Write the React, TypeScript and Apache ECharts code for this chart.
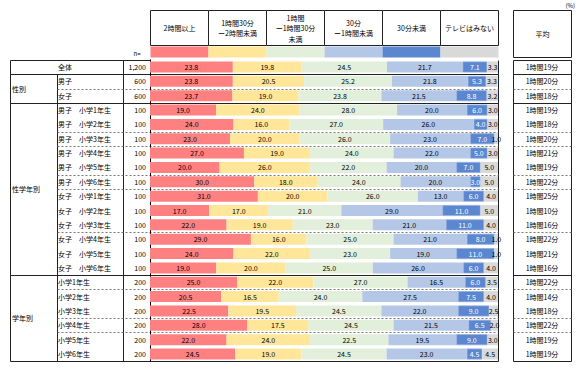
import React, { useEffect, useRef } from "react";
import * as echarts from "echarts";

const categories = [
  "2時間以上",
  "1時間30分\nー2時間未満",
  "1時間\nー1時間30分\n未満",
  "30分\nー1時間未満",
  "30分未満",
  "テレビはみない",
];
const colors = ["#FF8080", "#FFE699", "#E2EFDA", "#B4C7E7", "#5A87CF", "#D9D9D9"];

const rowLabels = [
  "全体", "男子", "女子",
  "男子　小学1年生", "男子　小学2年生", "男子　小学3年生", "男子　小学4年生", "男子　小学5年生", "男子　小学6年生",
  "女子　小学1年生", "女子　小学2年生", "女子　小学3年生", "女子　小学4年生", "女子　小学5年生", "女子　小学6年生",
  "小学1年生", "小学2年生", "小学3年生", "小学4年生", "小学5年生", "小学6年生",
];
const nValues = [
  "1,200", "600", "600",
  "100", "100", "100", "100", "100", "100", "100", "100", "100", "100", "100", "100",
  "200", "200", "200", "200", "200", "200",
];
const over2h = [23.8, 23.8, 23.7, 19.0, 24.0, 23.0, 27.0, 20.0, 30.0, 31.0, 17.0, 22.0, 29.0, 24.0, 19.0, 25.0, 20.5, 22.5, 28.0, 22.0, 24.5];
const h130to2h = [19.8, 20.5, 19.0, 24.0, 16.0, 20.0, 19.0, 26.0, 18.0, 20.0, 17.0, 19.0, 16.0, 22.0, 20.0, 22.0, 16.5, 19.5, 17.5, 24.0, 19.0];
const h1to130 = [24.5, 25.2, 23.8, 28.0, 27.0, 26.0, 24.0, 22.0, 24.0, 26.0, 21.0, 23.0, 25.0, 23.0, 25.0, 27.0, 24.0, 24.5, 24.5, 22.5, 24.5];
const m30to1h = [21.7, 21.8, 21.5, 20.0, 26.0, 23.0, 22.0, 20.0, 20.0, 13.0, 29.0, 21.0, 21.0, 19.0, 26.0, 16.5, 27.5, 22.0, 21.5, 19.5, 23.0];
const under30 = [7.1, 5.3, 8.8, 6.0, 4.0, 7.0, 5.0, 7.0, 3.0, 6.0, 11.0, 11.0, 8.0, 11.0, 6.0, 6.0, 7.5, 9.0, 6.5, 9.0, 4.5];
const noTv = [3.3, 3.3, 3.2, 3.0, 3.0, 1.0, 3.0, 5.0, 5.0, 4.0, 5.0, 4.0, 1.0, 1.0, 4.0, 3.5, 4.0, 2.5, 2.0, 3.0, 4.5];
const averages = [
  "1時間19分", "1時間20分", "1時間18分",
  "1時間19分", "1時間18分", "1時間20分", "1時間21分", "1時間19分", "1時間22分",
  "1時間25分", "1時間10分", "1時間16分", "1時間22分", "1時間21分", "1時間16分",
  "1時間22分", "1時間14分", "1時間18分", "1時間22分", "1時間19分", "1時間19分",
];
const avgHeader = "平均";
const groupLabels = ["性別", "性学年別", "学年別"];
const groupStart = [1, 3, 15];
const groupEnd = [2, 14, 20];
const solidAfter = [0, 2, 14];
const dashedAfter = [1, 4, 5, 7, 8, 11, 15, 17, 18];

const seriesValues = [over2h, h130to2h, h1to130, m30to1h, under30, noTv];
const FONT = "'Noto Sans CJK JP', 'Noto Sans', sans-serif";
const LINE = "#222";

export default function App() {
  const ref = useRef<HTMLDivElement>(null);
  useEffect(() => {
    const chart = echarts.init(ref.current!, null, { renderer: "svg" });
    const option: any = {
      animation: false,
      backgroundColor: "#fff",
      textStyle: { fontFamily: FONT },
      grid: { left: 150, right: 84, top: 59.8, height: 301.4, containLabel: false, outerBoundsMode: "none" },
      xAxis: { type: "value", min: 0, max: 100, show: false },
      yAxis: [
        {
          type: "category", data: rowLabels, inverse: true, position: "left",
          axisLine: { show: true, lineStyle: { color: "#000", width: 1 } },
          axisTick: { show: false },
          axisLabel: { align: "left", margin: 92, fontSize: 7, color: "#000", fontFamily: FONT },
        },
        {
          type: "category", data: nValues, inverse: true, position: "left",
          axisLine: { show: false }, axisTick: { show: false },
          axisLabel: { align: "right", margin: 4, fontSize: 7, color: "#000", fontFamily: FONT },
        },
        {
          type: "category", data: averages, inverse: true, position: "right", offset: 44,
          axisLine: { show: false }, axisTick: { show: false },
          axisLabel: { align: "center", margin: 0, fontSize: 7, color: "#000", fontFamily: FONT },
        },
      ],
      series: seriesValues.map((vals, k) => ({
        type: "bar",
        name: categories[k],
        stack: "total",
        yAxisIndex: 0,
        barWidth: 11,
        data: vals,
        itemStyle: k === 4
          ? { color: colors[k], borderColor: "#8FAADC", borderWidth: 0.8 }
          : { color: colors[k] },
        label: {
          show: true,
          position: "inside",
          fontSize: 7,
          fontFamily: FONT,
          color: k === 4 ? "#fff" : "#000",
          formatter: (p: any) => Number(p.value).toFixed(1),
        },
      })),
    };
    chart.setOption(option);

    const yc = (i: number) => chart.convertToPixel({ yAxisIndex: 0 }, i) as number;
    const xp = (v: number) => chart.convertToPixel({ xAxisIndex: 0 }, v) as number;
    const step = yc(1) - yc(0);
    const after = (i: number) => Math.round(yc(i) + step / 2) + 0.5;
    const yTop = Math.round(yc(0) - step / 2) + 0.5;
    const yBot = Math.round(yc(rowLabels.length - 1) + step / 2) + 0.5;
    const x0 = xp(0);
    const x100 = xp(100);
    const colW = (x100 - x0) / 6;
    const avgL = 513.5, avgR = 571.5;
    const tL = 10.5, tMid = 57.5, tN = 123.5;
    const barR = Math.round(x100) + 0.5;
    const barL = Math.round(x0) + 0.5;

    const line = (x1: number, y1: number, x2: number, y2: number, dashed = false) => ({
      type: "line", silent: true, z: 0,
      shape: { x1, y1, x2, y2 },
      style: dashed
        ? { stroke: "#777", lineWidth: 1, lineDash: [2, 2] }
        : { stroke: LINE, lineWidth: 1 },
    });
    const text = (x: number, y: number, t: string, align = "center", size = 7, lh = 10) => ({
      type: "text", silent: true, z: 5, x, y,
      style: { text: t, fill: "#000", fontSize: size, fontFamily: FONT, align, verticalAlign: "middle", lineHeight: lh },
    });

    const g: any[] = [];
    g.push(text(575, 5, "(%)", "right", 6));
    categories.forEach((c, k) => {
      const x = Math.round(x0 + k * colW) + 0.5;
      const w = Math.round(x0 + (k + 1) * colW) + 0.5 - x;
      g.push({ type: "rect", silent: true, z: 0, shape: { x, y: 10.5, width: w, height: 35 }, style: { fill: "#fff", stroke: LINE, lineWidth: 1 } });
      g.push({ type: "rect", silent: true, z: 0, shape: { x, y: 46.5, width: w, height: 11 }, style: { fill: colors[k] } });
      g.push(text(x + w / 2, 28, c, "center", 7, 10.5));
    });
    g.push({ type: "rect", silent: true, z: 0, shape: { x: avgL, y: 10.5, width: avgR - avgL, height: 47 }, style: { fill: "#fff", stroke: LINE, lineWidth: 1 } });
    g.push(text((avgL + avgR) / 2, 34, avgHeader));
    g.push(text(137, 53, "n=", "center", 6));

    // table frame
    g.push(line(tL, yTop, barL, yTop));
    g.push(line(tL, yBot, barR, yBot));
    g.push(line(tL, yTop, tL, yBot));
    g.push(line(tN, yTop, tN, yBot));
    g.push(line(tMid, after(0), tMid, yBot));
    g.push(line(barR, yTop, barR, yBot));
    g.push({ type: "rect", silent: true, z: 0, shape: { x: avgL, y: yTop, width: avgR - avgL, height: yBot - yTop }, style: { fill: "none", stroke: LINE, lineWidth: 1 } });
    solidAfter.forEach((i) => {
      g.push(line(tL, after(i), barR, after(i)));
      g.push(line(avgL, after(i), avgR, after(i)));
    });
    dashedAfter.forEach((i) => {
      g.push(line(tMid, after(i), barR, after(i), true));
      g.push(line(avgL, after(i), avgR, after(i), true));
    });
    groupLabels.forEach((l, k) => {
      g.push(text(12, (yc(groupStart[k]) + yc(groupEnd[k])) / 2, l, "left"));
    });

    chart.setOption({ graphic: g });
    return () => chart.dispose();
  }, []);
  return (
    <div
      ref={ref}
      style={{ position: "fixed", left: 0, top: 0, width: 582, height: 372, background: "#fff" }}
    />
  );
}
